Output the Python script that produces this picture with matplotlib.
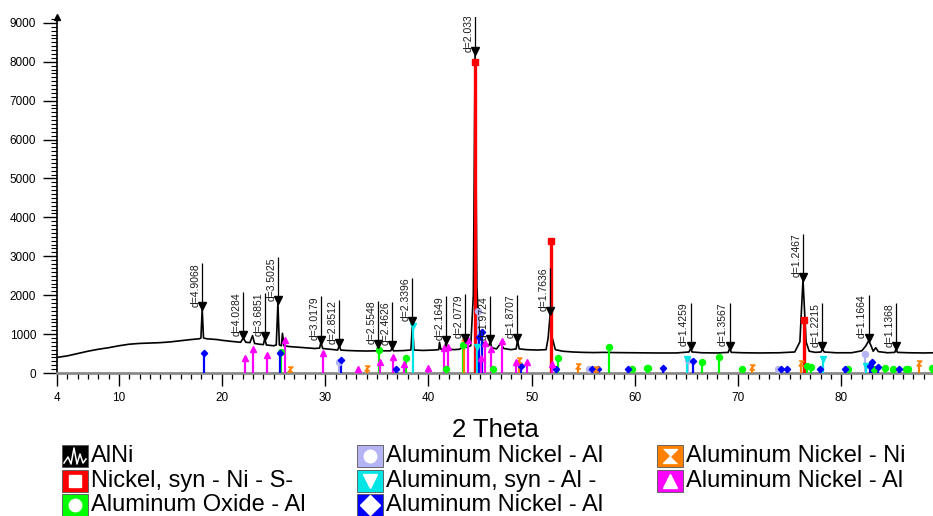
import matplotlib
matplotlib.use('Agg')
import matplotlib.pyplot as plt
from matplotlib import font_manager
from matplotlib.patches import Rectangle
from matplotlib.ticker import MultipleLocator, FixedLocator

# ---------------- data ----------------
profile_2theta = [4.0, 5.0, 6.0, 7.0, 8.0, 9.0, 10.0, 11.0, 12.0, 13.0, 14.0, 15.0, 16.0, 17.0,
                  17.8, 17.95, 18.07, 18.2, 18.5, 19.0, 19.5, 20.0, 21.0, 21.8, 22.05, 22.3, 22.7,
                  22.95, 23.15, 23.6, 24.0, 24.13, 24.3, 25.0, 25.25, 25.41, 25.55, 25.75, 25.85,
                  26.0, 26.5, 27.0, 28.0, 29.0, 29.45, 29.58, 29.75, 30.5, 31.2, 31.35, 31.5, 32.0,
                  33.0, 34.0, 35.0, 35.1, 35.25, 36.0, 36.35, 36.46, 36.6, 37.5, 38.3, 38.45, 38.6,
                  39.5, 40.5, 41.0, 41.07, 41.2, 41.55, 41.69, 41.85, 42.5, 43.0, 43.4, 43.52, 43.7,
                  44.1, 44.35, 44.52, 44.7, 44.8, 44.95, 45.2, 45.6, 45.85, 45.98, 46.15, 46.6, 47.0,
                  47.3, 48.0, 48.5, 48.63, 48.8, 49.5, 50.5, 51.4, 51.6, 51.8, 52.0, 52.3, 53.0, 54.0,
                  55.0, 56.0, 57.0, 58.0, 60.0, 62.0, 64.0, 65.25, 65.4, 65.55, 66.5, 68.0, 69.05,
                  69.19, 69.35, 70.5, 72.0, 74.0, 75.5, 76.0, 76.3, 76.6, 76.9, 77.5, 78.05, 78.19,
                  78.35, 79.5, 81.0, 82.0, 82.4, 82.66, 82.9, 83.1, 83.35, 83.6, 84.5, 85.2, 85.31,
                  85.45, 86.5, 88.0, 88.9]
profile_counts = [400, 440, 500, 560, 610, 650, 700, 740, 760, 770, 780, 800, 830, 860,
                  880, 900, 1650, 900, 880, 870, 860, 840, 810, 790, 900, 790, 780,
                  960, 760, 740, 730, 880, 720, 700, 720, 1800, 720, 700, 1020,
                  700, 680, 670, 650, 630, 640, 790, 630, 610, 590, 700, 590, 580,
                  570, 565, 570, 680, 570, 570, 570, 650, 570, 575, 590, 1270, 590,
                  580, 590, 600, 790, 610, 620, 790, 620, 600, 610, 680, 840, 660,
                  700, 2000, 8200, 2200, 1600, 1000, 800, 720, 700, 800, 650, 620, 760,
                  630, 600, 620, 830, 620, 600, 590, 600, 900, 1520, 900, 600, 560, 540,
                  530, 525, 530, 525, 520, 515, 515, 540, 630, 540, 520, 515, 530,
                  630, 530, 520, 515, 520, 540, 800, 2400, 800, 560, 530, 540, 620,
                  540, 520, 520, 570, 700, 830, 700, 560, 650, 550, 520, 530, 620,
                  530, 520, 515, 520]

peak_2theta = [18.07, 22.05, 24.13, 25.41, 29.58, 31.35, 35.10, 36.46, 38.45, 41.69, 43.52,
               44.52, 45.98, 48.63, 51.80, 65.40, 69.19, 76.30, 78.19, 82.66, 85.31]
peak_counts = [1650, 900, 880, 1800, 790, 700, 680, 650, 1270, 790, 840,
               8200, 800, 830, 1520, 630, 630, 2400, 620, 830, 620]
peak_labels = ['d=4.9068', 'd=4.0284', 'd=3.6851', 'd=3.5025', 'd=3.0179', 'd=2.8512',
               'd=2.5548', 'd=2.4626', 'd=2.3396', 'd=2.1649', 'd=2.0779', 'd=2.0335',
               'd=1.9724', 'd=1.8707', 'd=1.7636', 'd=1.4259', 'd=1.3567', 'd=1.2467',
               'd=1.2215', 'd=1.1664', 'd=1.1368']

nickel_2theta = [44.51, 51.85, 76.37]
nickel_counts = [8000, 3400, 1350]

oxide_2theta = [25.70, 35.20, 37.85, 41.67, 43.36, 46.29, 52.55, 57.49, 59.75, 61.14, 61.30,
                66.50, 68.20, 70.35, 76.70, 77.10, 80.65, 83.20, 84.25, 85.05, 86.30, 86.45, 88.85]
oxide_counts = [540, 600, 375, 90, 720, 90, 375, 680, 100, 120, 130,
                295, 420, 95, 180, 150, 110, 100, 120, 100, 100, 110, 120]

alnial_lav_2theta = [31.30, 44.80, 55.55, 65.12, 73.90, 82.30]
alnial_lav_counts = [290, 1600, 110, 340, 100, 480]

aluminum_2theta = [38.47, 44.74, 65.10, 78.23, 82.44]
aluminum_counts = [1200, 680, 350, 360, 180]

alnial_blue_2theta = [18.22, 25.57, 31.57, 36.83, 44.93, 45.22, 48.94, 52.40, 55.88, 56.46,
                      59.35, 62.78, 65.60, 74.20, 74.75, 77.93, 80.41, 82.76, 82.99, 83.58, 85.64]
alnial_blue_counts = [505, 505, 335, 90, 930, 1060, 180, 110, 110, 100,
                      100, 125, 315, 95, 95, 100, 100, 180, 290, 145, 100]

alnini_2theta = [26.60, 34.05, 43.45, 48.77, 54.49, 56.28, 71.37, 76.12, 87.51]
alnini_counts = [100, 120, 900, 335, 170, 100, 165, 250, 250]

alnial_mag_2theta = [22.24, 23.00, 24.32, 26.10, 29.79, 33.18, 35.28, 36.60, 37.60, 39.96,
                     41.48, 41.90, 43.83, 45.06, 45.45, 46.10, 47.10, 48.45, 49.58, 52.00]
alnial_mag_counts = [380, 610, 455, 850, 520, 95, 290, 400, 230, 125,
                     650, 680, 860, 380, 770, 610, 830, 290, 290, 220]

x_tick_values = [4, 10, 20, 30, 40, 50, 60, 70, 80]
y_tick_values = [0, 1000, 2000, 3000, 4000, 5000, 6000, 7000, 8000, 9000]

legend_labels = ['AlNi', 'Nickel, syn - Ni - S-', 'Aluminum Oxide - Al',
                 'Aluminum Nickel - Al', 'Aluminum, syn - Al -', 'Aluminum Nickel - Al',
                 'Aluminum Nickel - Ni', 'Aluminum Nickel - Al']

# ---------------- style ----------------
HOURGLASS = [(-1, 1), (1, 1), (-1, -1), (1, -1)]
RED, GREEN, LAV, CYAN, BLUE, ORANGE, MAG = ('#ff0000', '#00ff00', '#b4b4f4', '#00e6e6',
                                            '#0000ff', '#ff8000', '#ff00ff')

names = {f.name for f in font_manager.fontManager.ttflist}
BASE = 'Liberation Sans' if 'Liberation Sans' in names else 'DejaVu Sans'
NARROW = 'Liberation Sans Narrow' if 'Liberation Sans Narrow' in names else BASE
plt.rcParams['font.family'] = [BASE, 'DejaVu Sans']

W, H = 933, 516
fig = plt.figure(figsize=(W / 100, H / 100), dpi=100)
ax_l, ax_r, ax_t, ax_b = 57, 933, 17, 373
ax = fig.add_axes([ax_l / W, 1 - ax_b / H, (ax_r - ax_l) / W, (ax_b - ax_t) / H])
ax.set_xlim(4, 88.9)
ax.set_ylim(0, 9150)

# profile
ax.plot(profile_2theta, profile_counts, color='black', lw=1.2, zorder=2)

# reference sticks
phases = [
    (nickel_2theta, nickel_counts, RED, 's', 2.4, 4),
    (oxide_2theta, oxide_counts, GREEN, 'o', 1.6, 4.3),
    (alnial_lav_2theta, alnial_lav_counts, LAV, 'o', 1.6, 4.3),
    (aluminum_2theta, aluminum_counts, CYAN, 'v', 1.6, 4.3),
    (alnial_blue_2theta, alnial_blue_counts, BLUE, 'D', 1.6, 3.2),
    (alnini_2theta, alnini_counts, ORANGE, HOURGLASS, 1.6, 3.6),
    (alnial_mag_2theta, alnial_mag_counts, MAG, '^', 1.6, 4.3),
]
for xs, hs, col, mk, lw, ms in phases:
    ax.vlines(xs, 0, hs, colors=col, lw=lw, zorder=3)
    ax.plot(xs, hs, ls='none', marker=mk, ms=ms, color=col, mec=col, zorder=4)

# peak labels
for x, y, lab in zip(peak_2theta, peak_counts, peak_labels):
    top = y + 1180
    ax.vlines(x, y, top, colors='black', lw=0.9, zorder=5)
    ax.plot([x], [y + 70], ls='none', marker='v', ms=6, color='black', zorder=6)
    ax.text(x - 0.15, top, lab, rotation=90, ha='right', va='top', fontsize=7.5,
            family=[NARROW, 'DejaVu Sans'], color='#1a1a1a', clip_on=True, zorder=6)

# axes styling
for s in ('top', 'right'):
    ax.spines[s].set_visible(False)
ax.spines['left'].set_color('black')
ax.spines['left'].set_linewidth(1.2)
ax.spines['bottom'].set_color('#8a8a8a')
ax.spines['bottom'].set_linewidth(2)

ax.xaxis.set_major_locator(FixedLocator(x_tick_values))
ax.set_xticklabels([str(v) for v in x_tick_values])
ax.xaxis.set_minor_locator(MultipleLocator(1))
ax.yaxis.set_major_locator(FixedLocator(y_tick_values))
ax.set_yticklabels([str(v) for v in y_tick_values])
ax.yaxis.set_minor_locator(MultipleLocator(100))
ax.tick_params(axis='x', which='major', length=9, width=1, color='black', pad=5, labelsize=8.5)
ax.tick_params(axis='x', which='minor', length=4, width=0.9, color='black')
ax.tick_params(axis='y', which='major', length=10, width=1, color='black', pad=5, labelsize=8.5)
ax.tick_params(axis='y', which='minor', length=4.5, width=0.8, color='black')
ax.set_xlabel('2 Theta', fontsize=18.5, labelpad=10)

# arrow at top of y axis
ax.plot([4], [9150], ls='none', marker='^', ms=4, color='black', clip_on=False, zorder=7)

# ---------------- legend (drawn in figure pixel space) ----------------
lax = fig.add_axes([0, 0, 1, 1])
lax.set_xlim(0, W)
lax.set_ylim(H, 0)
lax.axis('off')
legend_colors = ['black', RED, GREEN, LAV, CYAN, BLUE, ORANGE, MAG]
legend_glyphs = ['zig', 's', 'o', 'o', 'v', 'D', HOURGLASS, '^']
col_x = [62, 357, 657]
row_y = [456, 481, 505]
iw, ih = 26, 22
for i, (lab, col, gl) in enumerate(zip(legend_labels, legend_colors, legend_glyphs)):
    cx = col_x[i // 3]
    cy = row_y[i % 3]
    lax.add_patch(Rectangle((cx, cy - ih / 2), iw, ih, facecolor=col, edgecolor='#555555', lw=0.6))
    if gl == 'zig':
        zx = [cx + 2, cx + 6, cx + 9, cx + 12, cx + 15, cx + 18, cx + 21, cx + 24]
        zy = [cy + 7, cy + 1, cy + 8, cy - 8, cy + 8, cy - 2, cy + 7, cy + 3]
        lax.plot(zx, zy, color='white', lw=1.1)
    else:
        ms = 9 if gl in ('s', 'o') else 10
        lax.plot([cx + iw / 2], [cy], ls='none', marker=gl, ms=ms, color='white', mec='white')
    lax.text(cx + iw + 3, cy, lab, fontsize=17, ha='left', va='center', color='black')

fig.savefig('out.png', dpi=100)
